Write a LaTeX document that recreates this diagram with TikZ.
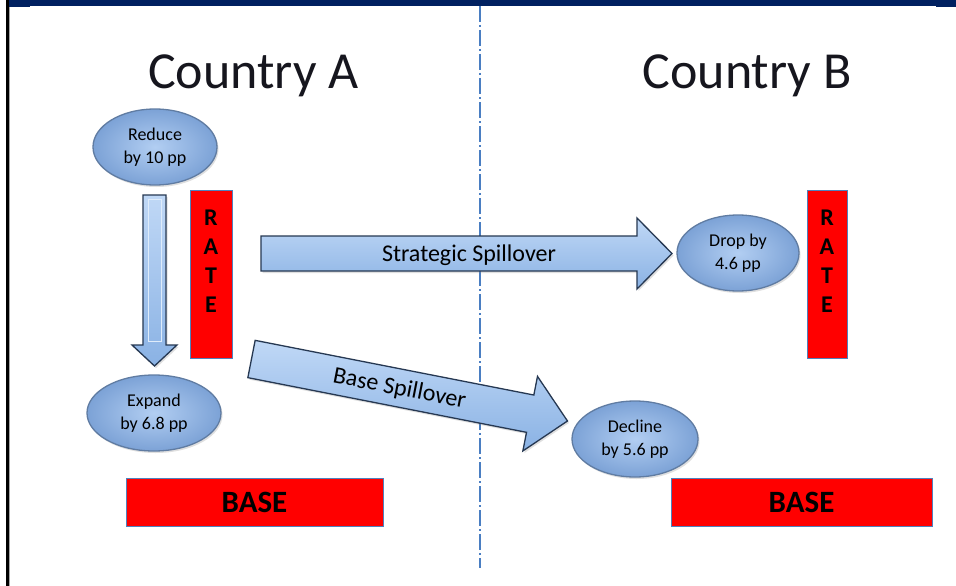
\documentclass[tikz,border=0pt]{standalone}
\usepackage{fontspec}
\setmainfont{Carlito}
\usetikzlibrary{shapes.geometric,shadows}
\definecolor{navy}{RGB}{0,32,96}
\definecolor{divblue}{RGB}{74,126,194}
\definecolor{arrtop}{RGB}{192,216,246}
\definecolor{arrbot}{RGB}{138,178,228}
\definecolor{arredge}{RGB}{38,56,82}
\definecolor{ellin}{RGB}{178,206,242}
\definecolor{ellout}{RGB}{124,162,214}
\definecolor{elledge}{RGB}{96,124,162}
\definecolor{boxedge}{RGB}{79,129,189}
\definecolor{titlecol}{RGB}{22,22,30}
\tikzset{
  bubble/.style={ellipse, draw=elledge, line width=1.3pt, inner color=ellin, outer color=ellout,
    inner sep=0pt, align=center, font=\fontsize{18}{23}\selectfont,
    drop shadow={opacity=0.25, shadow xshift=1.5pt, shadow yshift=-2pt}},
  redbox/.style={draw=boxedge, line width=1pt, fill=red, inner sep=0pt},
  ratetext/.style={align=center, font=\fontsize{24}{29}\selectfont\bfseries, text=black},
  basetext/.style={font=\fontsize{31}{34}\selectfont\bfseries, text=black},
  title/.style={font=\fontsize{52}{60}\selectfont, text=titlecol},
  blockarrow/.style={draw=arredge, line width=1.3pt, top color=arrtop, bottom color=arrbot,
    line join=miter, drop shadow={opacity=0.25, shadow xshift=1.5pt, shadow yshift=-2pt}},
  arrowtext/.style={font=\fontsize{24}{28}\selectfont, text=black},
  divider/.style={divblue, line width=1.8pt, dash pattern=on 16pt off 3pt on 2pt off 3pt}
}
\begin{document}
\begin{tikzpicture}[x=1pt,y=-1pt]
\useasboundingbox (0,0) rectangle (956,586);
\fill[white] (0,0) rectangle (956,586);
% frame
\fill[navy] (9,0) rectangle (956,6);
\fill[navy] (9,0) rectangle (30,7);
\fill[navy] (936,0) rectangle (956,7);
\fill[black] (6,0) rectangle (9,586);
\fill[black!35] (9,7) rectangle (10,586);
% divider
\coordinate (dtop) at (480,6);
\coordinate (dbot) at (480,568);
\draw[divider] (dtop) -- (dbot);
% titles
\node[title] (titleA) at (253.5,76) {Country A};
\node[title] (titleB) at (747,76) {Country B};
% red boxes
\node[redbox, minimum width=42pt, minimum height=168pt] (rateA) at (211,274) {};
\node[ratetext] (rateAtext) at (211,261.5) {R\\A\\T\\E};
\node[redbox, minimum width=40pt, minimum height=168pt] (rateB) at (827,274) {};
\node[ratetext] (rateBtext) at (827,261.5) {R\\A\\T\\E};
\node[redbox, minimum width=257pt, minimum height=48pt] (baseA) at (254.5,502) {};
\node[basetext] (baseAtext) at (254.5,502) {BASE};
\node[redbox, minimum width=261pt, minimum height=48pt] (baseB) at (801.5,502) {};
\node[basetext] (baseBtext) at (801.5,502) {BASE};
% vertical block arrow
\coordinate (dstart) at (154.5,195);
\coordinate (dtip) at (154.5,366);
\begin{scope}[shift={(dstart)}]
  \path[blockarrow] (-11.5,0) -- (11.5,0) -- (11.5,150) -- (22.5,150) -- (0,171) -- (-22.5,150) -- (-11.5,150) -- cycle;
  \draw[arrtop!50!white, line width=1pt] (-6.5,4) rectangle (6.5,146);
\end{scope}
% strategic spillover arrow
\coordinate (sstart) at (261,253.5);
\coordinate (stip) at (672,253.5);
\begin{scope}[shift={(sstart)}]
  \path[blockarrow] (0,-17.5) -- (376,-17.5) -- (376,-35.5) -- (411,0) -- (376,35.5) -- (376,17.5) -- (0,17.5) -- cycle;
\end{scope}
\node[arrowtext] (stext) at (469,255) {Strategic Spillover};
% base spillover arrow
\coordinate (bstart) at (251.5,359);
\begin{scope}[shift={(bstart)}, rotate=-11.1]
  \path[blockarrow] (0,-19) -- (284,-19) -- (284,-38) -- (322,0) -- (284,38) -- (284,19) -- (0,19) -- cycle;
  \coordinate (btip) at (322,0);
  \node[arrowtext, rotate=-11.1] (btext) at (151,1) {Base Spillover};
\end{scope}
% ellipses
\node[bubble, minimum width=124pt, minimum height=76pt] (reduce) at (155,147) {Reduce\\by 10 pp};
\node[bubble, minimum width=134pt, minimum height=76pt] (expand) at (154,413) {Expand\\by 6.8 pp};
\node[bubble, minimum width=122pt, minimum height=76pt] (drop) at (738,253) {Drop by\\4.6 pp};
\node[bubble, minimum width=126pt, minimum height=76pt] (decline) at (635,439) {Decline\\by 5.6 pp};
\end{tikzpicture}
\end{document}
